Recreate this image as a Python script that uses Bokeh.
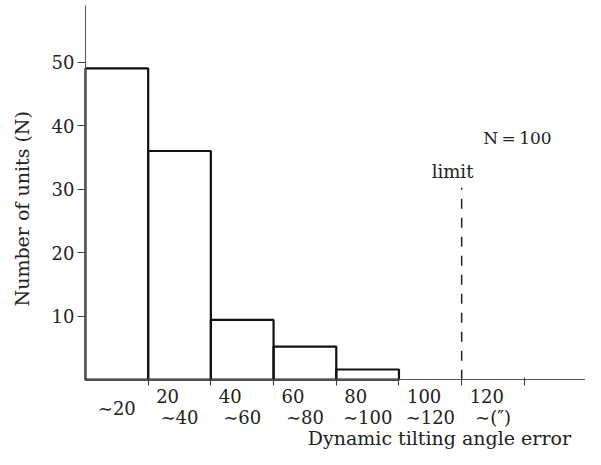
from math import pi
from bokeh.plotting import figure
from bokeh.models import Range1d, FixedTicker, Label
from bokeh.embed import file_html
from bokeh.resources import INLINE

# ---- data ----
bin_edges = [0, 20, 40, 60, 80, 100, 120]
counts = [49, 36, 9.4, 5.2, 1.6]
first_lines = ["", "20", "40", "60", "80", "100", "120"]
second_lines = ["\u223c20", "\u223c40", "\u223c60", "\u223c80", "\u223c100", "\u223c120", "\u223c(\u2033)"]
y_ticks = [10, 20, 30, 40, 50]
limit_x = 120
limit_top = 30.2

FONT = "DejaVu Serif"
TXT = "#222222"

p = figure(width=585, height=449, output_backend="svg", toolbar_location=None,
           x_range=Range1d(-27.1, 159.5), y_range=Range1d(-11.0, 59.7),
           min_border=0, background_fill_color="white", border_fill_color="white")
p.outline_line_color = None
p.grid.visible = False

# y axis
ya = p.yaxis[0]
ya.fixed_location = 0
ya.bounds = (0, 58.9)
ya.ticker = FixedTicker(ticks=y_ticks)
ya.minor_tick_line_color = None
ya.major_tick_in = 0
ya.major_tick_out = 8
ya.major_label_standoff = 3
ya.axis_line_color = "#555555"
ya.major_tick_line_color = "#444444"
ya.major_label_text_font = FONT
ya.major_label_text_font_size = "18px"
ya.major_label_text_color = TXT

# x axis
xa = p.xaxis[0]
xa.fixed_location = 0
xa.bounds = (0, 162)
xticks = bin_edges[1:] + [140]
xa.ticker = FixedTicker(ticks=xticks)
xa.major_label_overrides = {t: "" for t in xticks}
xa.minor_tick_line_color = None
xa.major_tick_in = 2
xa.major_tick_out = 6
xa.axis_line_color = "#555555"
xa.major_tick_line_color = "#333333"
xa.major_label_text_font_size = "1px"

# bars
p.quad(left=bin_edges[:len(counts)], right=bin_edges[1:len(counts) + 1],
       bottom=0, top=counts, fill_color=None, line_color="#111111", line_width=2.2)

# limit line
p.segment(x0=[limit_x], y0=[0], x1=[limit_x], y1=[limit_top],
          line_color="#222222", line_width=1.5, line_dash="10 9")

# tick labels (two-line)
for i in range(len(second_lines)):
    lo = bin_edges[i]
    hi = bin_edges[i + 1] if i + 1 < len(bin_edges) else bin_edges[i] + 20
    c = (lo + hi) / 2
    if first_lines[i]:
        p.add_layout(Label(x=lo, y=-2.52, x_offset=8, text=first_lines[i], text_align="left",
                           text_baseline="middle", text_font=FONT, text_font_size="18px",
                           text_color=TXT))
        p.add_layout(Label(x=c, y=-5.98, text=second_lines[i], text_align="center",
                           text_baseline="middle", text_font=FONT, text_font_size="18px",
                           text_color=TXT))
    else:
        p.add_layout(Label(x=c, y=-4.57, text=second_lines[i], text_align="center",
                           text_baseline="middle", text_font=FONT, text_font_size="18px",
                           text_color=TXT))

# axis titles
p.add_layout(Label(x=112.9, y=-9.15, text="Dynamic tilting angle error", text_align="center",
                   text_baseline="middle", text_font=FONT, text_font_size="19px", text_color=TXT))
p.add_layout(Label(x=-20.1, y=26.9, text="Number of units (N)", angle=pi / 2, text_align="center",
                   text_baseline="middle", text_font=FONT, text_font_size="19px", text_color=TXT))

# annotations
p.add_layout(Label(x=117.1, y=32.8, text="limit", text_align="center", text_baseline="middle",
                   text_font=FONT, text_font_size="18px", text_color=TXT))
p.add_layout(Label(x=137.8, y=38.1, text="N\u2009=\u2009100", text_align="center", text_baseline="middle",
                   text_font=FONT, text_font_size="17px", text_color=TXT))

open("out.html", "w").write(file_html(p, INLINE))
